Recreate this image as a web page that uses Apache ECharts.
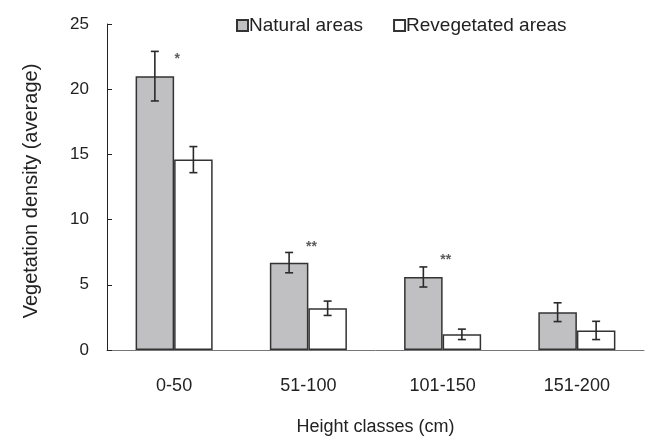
<!DOCTYPE html>
<html><head><meta charset="utf-8">
<script src="https://cdn.jsdelivr.net/npm/echarts@6/dist/echarts.min.js"></script>
<style>html,body{margin:0;padding:0;background:#fff}#c{width:649px;height:441px}</style>
</head><body><div id="c"></div>
<script>
const categories = ['0-50', '51-100', '101-150', '151-200'];
const naturalValues = [21.0, 6.7, 5.6, 2.9];
const naturalErrors = [1.9, 0.78, 0.77, 0.72];
const revegValues = [14.6, 3.2, 1.2, 1.5];
const revegErrors = [1.0, 0.55, 0.4, 0.7];
const sigLabels = ['*', '**', '**', ''];
const sigValues = [22.5, 8.1, 7.1, null];
const yTicks = [0, 5, 10, 15, 20, 25];

const FONT = "'Liberation Sans', Arial, sans-serif";
const BAR_W = 0.287;

function errSeries(values, errors, side) {
  const data = values.map((v, i) => [i, v - errors[i], v + errors[i]]);
  return {
    type: 'custom',
    z: 5,
    silent: true,
    data: data,
    renderItem: function (params, api) {
      const i = api.value(0);
      const band = api.size([1, 0])[0];
      const off = side * band * BAR_W / 2;
      const lo = api.coord([i, api.value(1)]);
      const hi = api.coord([i, api.value(2)]);
      const x = lo[0] + off;
      const cap = 4;
      const st = { stroke: '#2a2a2a', lineWidth: 1.6 };
      return {
        type: 'group',
        children: [
          { type: 'line', shape: { x1: x, y1: lo[1], x2: x, y2: hi[1] }, style: st },
          { type: 'line', shape: { x1: x - cap, y1: lo[1], x2: x + cap, y2: lo[1] }, style: st },
          { type: 'line', shape: { x1: x - cap, y1: hi[1], x2: x + cap, y2: hi[1] }, style: st }
        ]
      };
    }
  };
}

const chart = echarts.init(document.getElementById('c'));
chart.setOption({
  animation: false,
  textStyle: { fontFamily: FONT },
  grid: { left: 107, right: 5, top: 24, bottom: 82 },
  legend: {
    data: ['Natural areas', 'Revegetated areas'],
    left: 231, top: 11,
    icon: 'rect', itemWidth: 11, itemHeight: 11, itemGap: 30,
    textStyle: { fontSize: 19, color: '#222', fontFamily: FONT, padding: [0, 0, 0, -4] }
  },
  xAxis: {
    type: 'category',
    data: categories,
    name: 'Height classes (cm)',
    nameLocation: 'middle',
    nameGap: 68,
    nameTextStyle: { fontSize: 18, color: '#222', fontFamily: FONT },
    axisLine: { lineStyle: { color: '#777', width: 1 } },
    axisTick: { show: false },
    axisLabel: { fontSize: 18, color: '#222', margin: 27, fontFamily: FONT }
  },
  yAxis: {
    type: 'value',
    min: 0, max: 25, interval: 5,
    name: 'Vegetation density (average)',
    nameLocation: 'middle',
    nameGap: 66,
    nameTextStyle: { fontSize: 20, color: '#222', fontFamily: FONT, padding: [0, 0, 0, -8] },
    axisLine: { show: true, lineStyle: { color: '#222', width: 1 } },
    axisTick: { show: true, inside: true, length: 5, lineStyle: { color: '#222' } },
    axisLabel: { fontSize: 17, color: '#222', margin: 18, fontFamily: FONT,
      formatter: v => yTicks.includes(v) ? String(v) : '' },
    splitLine: { show: false }
  },
  series: [
    {
      name: 'Natural areas', type: 'bar', data: naturalValues,
      barWidth: (BAR_W * 100) + '%', barGap: '0%',
      itemStyle: { color: '#c0c0c2', borderColor: '#333', borderWidth: 1.5 }
    },
    {
      name: 'Revegetated areas', type: 'bar', data: revegValues,
      barWidth: (BAR_W * 100) + '%', barGap: '0%',
      itemStyle: { color: '#ffffff', borderColor: '#333', borderWidth: 1.5 }
    },
    errSeries(naturalValues, naturalErrors, -1),
    errSeries(revegValues, revegErrors, 1),
    {
      type: 'scatter', silent: true, symbolSize: 0, z: 6,
      data: sigValues.map((v, i) => v == null ? null : { value: [i, v], label: { formatter: sigLabels[i] } }),
      label: { show: true, position: 'inside', fontSize: 14, fontWeight: 'bold', color: '#333', fontFamily: FONT, offset: [3, 3] }
    }
  ]
});
</script>
</body></html>
